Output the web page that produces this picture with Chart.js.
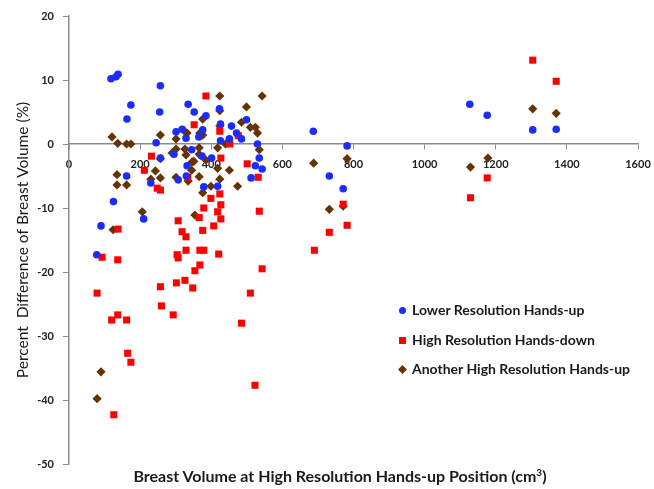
<!DOCTYPE html>
<html>
<head>
<meta charset="utf-8">
<script src="https://cdn.jsdelivr.net/npm/chart.js@4/dist/chart.umd.min.js"></script>
<style>
  body { margin: 0; background: #fff; }
  #wrap { position: relative; width: 654px; height: 489px; }
  #legend { position: absolute; left: 399px; top: 300px; font-family: Lato, sans-serif; font-weight: bold; font-size: 14px; color: #1a1a1a; }
  #legend div { height: 29.5px; line-height: 19px; white-space: nowrap; }
  #legend span.mk { display: inline-block; width: 7px; height: 7px; margin-right: 6px; vertical-align: 1px; }
  #xtitle { position: absolute; left: 0; width: 680px; top: 466px; text-align: center; font-family: Lato, sans-serif; font-weight: bold; font-size: 16px; line-height: 20px; color: #1a1a1a; white-space: nowrap; }
  #xtitle sup { font-size: 10px; line-height: 0; }
</style>
</head>
<body>
<div id="wrap">
  <canvas id="chart" width="654" height="489"></canvas>
  <div id="legend"></div>
  <div id="xtitle"></div>
</div>
<script>
// valores
const lowerResX = [78, 90, 125, 162, 210, 230, 257, 118, 132, 138, 174, 163, 257, 255, 245, 295, 301, 318, 329, 335,
  352, 345, 365, 376, 385, 374, 401, 423, 426, 426, 451, 457, 471, 485, 499, 530, 535, 524, 543, 512,
  332, 330, 379, 418, 307, 687, 782, 732, 771, 1127, 1176, 1304, 1370];
const lowerResY = [-17.3, -12.8, -9.0, -5.0, -11.7, -6.1, -2.2, 10.2, 10.5, 10.9, 6.1, 3.9, 9.1, 5.0, 0.2, -1.6, 1.9, 2.3, 0.9, 6.2,
  5.0, -0.9, 1.1, 2.2, 4.4, -1.9, -2.2, 5.5, 3.1, 0.5, 0.8, 2.8, 1.7, 0.8, 3.8, 0.0, -2.2, -3.4, -3.9, -5.3,
  -3.4, -5.0, -6.7, -6.6, -5.6, 2.0, -0.3, -5.0, -7.0, 6.2, 4.5, 2.2, 2.3];

const handsDownX = [385, 352, 424, 232, 427, 452, 476, 501, 212, 532, 334, 248, 257, 424, 399, 427, 379, 418, 427, 366,
  307, 535, 376, 407, 318, 329, 138, 93, 137, 329, 368, 379, 304, 307, 421, 368, 354, 543, 79, 510,
  257, 302, 326, 348, 260, 293, 120, 137, 162, 485, 165, 174, 523, 126, 690, 732, 782, 771, 1304, 1370,
  1176, 1129];
const handsDownY = [7.5, 3.0, 2.0, -1.9, -2.2, 0.0, 1.3, -3.1, -4.1, -5.2, -5.2, -6.9, -7.2, -7.8, -8.5, -9.5, -10.0, -10.6, -11.7, -11.5,
  -12.0, -10.5, -13.5, -12.8, -13.7, -14.5, -13.3, -17.7, -18.1, -16.6, -16.6, -16.6, -17.3, -17.8, -17.2, -18.9, -19.8, -19.5, -23.3, -23.3,
  -22.3, -21.7, -21.3, -22.5, -25.3, -26.7, -27.5, -26.7, -27.5, -28.0, -32.7, -34.1, -37.7, -42.3, -16.6, -13.8, -12.7, -9.4, 13.1, 9.8,
  -5.3, -8.4];

const anotherUpX = [121, 137, 162, 174, 257, 424, 543, 499, 376, 424, 485, 510, 524, 530, 325, 332, 301, 376, 424, 440,
  418, 257, 290, 301, 326, 329, 366, 366, 535, 346, 368, 243, 257, 230, 301, 366, 351, 385, 451, 418,
  424, 399, 474, 345, 135, 135, 162, 206, 124, 335, 376, 354, 90, 79, 688, 782, 732, 771, 1304, 1370,
  1178, 1129];
const anotherUpY = [1.1, 0.1, 0.0, 0.0, 1.4, 7.5, 7.5, 5.8, 3.9, 5.2, 3.4, 2.6, 2.6, 1.7, 2.0, 1.7, 0.8, 1.4, 2.8, 0.0,
  -0.6, -2.3, -1.4, -0.8, -0.8, -1.7, -0.6, -1.6, -0.9, -2.8, 1.7, -4.2, -5.3, -5.5, -5.2, -5.1, -2.7, -2.5, -4.1, -3.8,
  -5.5, -6.6, -6.6, -4.1, -4.8, -6.4, -6.4, -10.6, -13.4, -5.8, -7.6, -11.1, -35.6, -39.8, -3.0, -2.3, -10.2, -9.7, 5.5, 4.8,
  -2.2, -3.6];

const seriesNames = ['Lower Resolution Hands-up', 'High Resolution Hands-down', 'Another High Resolution Hands-up'];
const xTicks = [0, 200, 400, 600, 800, 1000, 1200, 1400, 1600];
const yTicks = [20, 10, 0, -10, -20, -30, -40, -50];

const FONT = 'Lato, sans-serif';
const AXIS_GREY = '#8c8c8c';

document.getElementById('xtitle').innerHTML = 'Breast Volume at High Resolution Hands-up Position (cm<sup>3</sup>)';

function toPoints(xs, ys) {
  return xs.map((x, i) => ({ x: x, y: ys[i] }));
}

// leyenda en HTML dentro del area del grafico
const htmlLegend = {
  id: 'htmlLegend',
  afterUpdate(chart) {
    const box = document.getElementById('legend');
    box.innerHTML = '';
    chart.data.datasets.forEach(ds => {
      const row = document.createElement('div');
      const mk = document.createElement('span');
      mk.className = 'mk';
      mk.style.background = ds.backgroundColor;
      if (ds.pointStyle === 'circle') mk.style.borderRadius = '50%';
      if (ds.pointStyle === 'rectRot') mk.style.transform = 'rotate(45deg) scale(0.9)';
      row.appendChild(mk);
      row.appendChild(document.createTextNode(ds.label));
      box.appendChild(row);
    });
  }
};

new Chart(document.getElementById('chart'), {
  type: 'scatter',
  data: {
    datasets: [
      {
        label: seriesNames[0],
        data: toPoints(lowerResX, lowerResY),
        pointStyle: 'circle',
        pointRadius: 3.8,
        backgroundColor: '#1a2cff',
        borderColor: '#1a2cff',
        borderWidth: 0
      },
      {
        label: seriesNames[1],
        data: toPoints(handsDownX, handsDownY),
        pointStyle: 'rect',
        pointRadius: 5,
        backgroundColor: '#ff0000',
        borderColor: '#ff0000',
        borderWidth: 0
      },
      {
        label: seriesNames[2],
        data: toPoints(anotherUpX, anotherUpY),
        pointStyle: 'rectRot',
        pointRadius: 4.6,
        backgroundColor: '#663300',
        borderColor: '#663300',
        borderWidth: 0
      }
    ]
  },
  options: {
    responsive: false,
    animation: false,
    layout: { padding: { left: 8, right: 16, top: 16, bottom: 25 } },
    plugins: {
      legend: { display: false },
      tooltip: { enabled: false }
    },
    scales: {
      x: {
        type: 'linear',
        min: 0,
        max: 1600,
        position: { y: 0 },
        afterBuildTicks: scale => { scale.ticks = xTicks.map(v => ({ value: v })); },
        afterFit: scale => { scale.paddingLeft = 0; scale.paddingRight = 0; },
        grid: { drawOnChartArea: false, tickLength: 5, color: AXIS_GREY },
        border: { color: AXIS_GREY, width: 1.5 },
        ticks: {
          color: '#222', padding: 9, maxRotation: 0,
          font: { family: FONT, size: 11, weight: 'bold' },
          callback: v => String(v)
        }
      },
      y: {
        type: 'linear',
        min: -50,
        max: 20,
        afterBuildTicks: scale => { scale.ticks = yTicks.map(v => ({ value: v })); },
        afterFit: scale => { scale.width = 61; },
        grid: { drawOnChartArea: false, tickLength: 6, color: AXIS_GREY },
        border: { color: AXIS_GREY, width: 1.5 },
        ticks: { color: '#222', padding: 9, font: { family: FONT, size: 11, weight: 'bold' }, callback: v => String(v) },
        title: {
          display: true,
          text: 'Percent  Difference of Breast Volume (%)',
          color: '#1a1a1a',
          padding: { top: 6, bottom: 0 },
          font: { family: FONT, size: 15.5 }
        }
      }
    }
  },
  plugins: [htmlLegend]
});
</script>
</body>
</html>
